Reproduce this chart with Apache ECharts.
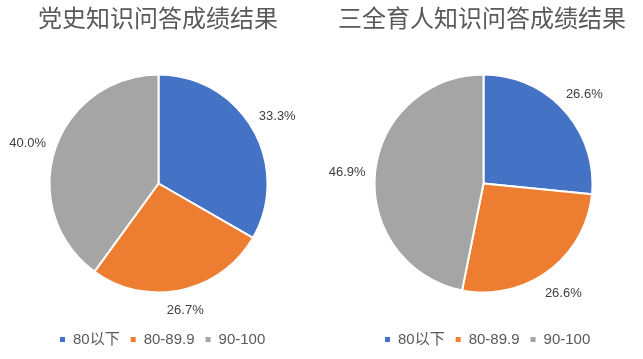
<!DOCTYPE html>
<html>
<head>
<meta charset="utf-8">
<script src="https://cdn.jsdelivr.net/npm/echarts@6/dist/echarts.min.js"></script>
<style>html,body{margin:0;padding:0;background:#fff}#c{width:643px;height:359px}</style>
</head>
<body>
<div id="c"></div>
<script>
const categories = ['80以下', '80-89.9', '90-100'];
const titles = ['党史知识问答成绩结果', '三全育人知识问答成绩结果'];
const partyHistory = [33.3, 26.7, 40.0];
const threeAll = [26.6, 26.6, 46.9];
const colors = ['#4472C4', '#ED7D31', '#A5A5A5'];

const R = 109;
const centers = [[158.5, 183.5], [483.5, 183.5]];
const EDGE = R + 9;

function makeLayout(c) {
  return function (p) {
    const r = p.labelRect;
    const lx = r.x + r.width / 2, ly = r.y + r.height / 2;
    let ux = lx - c[0], uy = ly - c[1];
    const len = Math.hypot(ux, uy) || 1;
    ux /= len; uy /= len;
    const d = EDGE + Math.abs(ux) * r.width / 2 + Math.abs(uy) * r.height / 2;
    return { x: c[0] + ux * d, y: c[1] + uy * d + 2, align: 'center', verticalAlign: 'middle' };
  };
}

function pie(values, c) {
  return {
    type: 'pie',
    center: c,
    radius: [0, R],
    startAngle: 90,
    clockwise: true,
    avoidLabelOverlap: false,
    itemStyle: { borderColor: '#fff', borderWidth: 2 },
    label: {
      show: true,
      position: 'inside',
      color: '#404040',
      fontSize: 13,
      fontFamily: 'Liberation Sans, Noto Sans CJK SC, sans-serif',
      formatter: p => p.value.toFixed(1) + '%'
    },
    labelLine: { show: false },
    labelLayout: makeLayout(c),
    emphasis: { disabled: true },
    data: categories.map((n, i) => ({ name: n, value: values[i] }))
  };
}

const legendCommon = {
  data: categories,
  icon: 'rect',
  itemWidth: 7,
  itemHeight: 7,
  itemGap: 9,
  top: 332,
  padding: 0,
  selectedMode: false,
  textStyle: { fontSize: 15, color: '#595959', padding: [0, 0, 0, 2], fontFamily: 'Liberation Sans, Noto Sans CJK SC, sans-serif' }
};

const titleStyle = { fontSize: 24, fontWeight: 'normal', color: '#595959', fontFamily: 'Noto Sans CJK SC, sans-serif' };

const chart = echarts.init(document.getElementById('c'), null, { renderer: 'canvas' });
chart.setOption({
  animation: false,
  color: colors,
  title: [
    { text: titles[0], left: 38, top: 6, padding: 0, textStyle: titleStyle },
    { text: titles[1], left: 338, top: 6, padding: 0, textStyle: titleStyle }
  ],
  legend: [
    Object.assign({ left: 58 }, legendCommon),
    Object.assign({ left: 383 }, legendCommon)
  ],
  series: [pie(partyHistory, centers[0]), pie(threeAll, centers[1])]
});
</script>
</body>
</html>
